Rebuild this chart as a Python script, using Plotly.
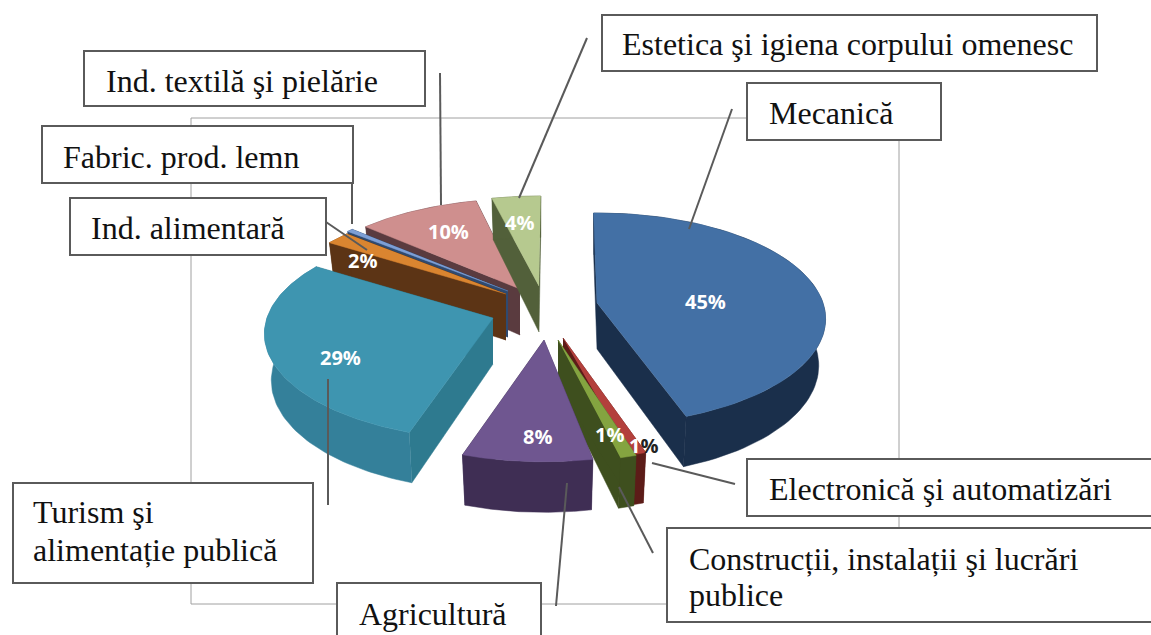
import numpy as np
import plotly.graph_objects as go

# ---- data ----
categories = ["Mecanică", "Electronică şi automatizări", "Construcții, instalații şi lucrări publice",
              "Agricultură", "Turism şi alimentație publică", "Ind. alimentară",
              "Fabric. prod. lemn", "Ind. textilă şi pielărie", "Estetica şi igiena corpului omenesc"]
values = [45, 1, 1, 8, 29, 2, 0.5, 10, 4]
value_labels = ["45%", "1%", "1%", "8%", "29%", "2%", "", "10%", "4%"]

# ---- styling / placement (exploded-slice geometry, per category) ----
top_colors = ["#4370a5", "#b3403c", "#84a440", "#6f5690", "#3e95b0", "#da8530", "#7d9fd6", "#cf8f8e", "#b6c98f"]
wall_colors = ["#1a2f4b", "#5c1c18", "#3e4f1e", "#3f2e54", "#34809a", "#5c3415", "#2f4a70", "#5a3b3f", "#52603a"]
cut_colors = ["#1a2f4b", "#5c1c18", "#3e4f1e", "#3f2e54", "#2e7a8f", "#5c3415", "#2f4a70", "#5a3b3f", "#52603a"]
tips = [(597, 303), (563, 338), (558, 340), (544, 340), (493, 318), (506, 294), (508, 291), (520, 289), (539, 286)]
angle_shift = [-1, 0.5, -2, 1, 1.5, 1.5, 1, 1.5, 0.5]
label_pos = [(705, 301), (643, 445), (609, 434), (537, 436), (340, 357), (362, 260), None, (448, 231), (519, 222)]
draw_order = [7, 8, 6, 5, 4, 0, 1, 2, 3]

RX, RY, P = 226, 103.5, 0.15
DEPTH, SHRINK = 46, 0.97


def project(t_deg, tip, depth=False):
    t = np.radians(np.asarray(t_deg, dtype=float))
    u, v = np.sin(t), -np.cos(t)
    d = 1 - P * v
    x, y = RX * u / d, RY * v / d
    if depth:
        return tip[0] + SHRINK * x, tip[1] + y + DEPTH * (1 + 0.1 * v)
    return tip[0] + x, tip[1] + y


cum = np.concatenate([[0], np.cumsum(values)]) / np.sum(values) * 360

fig = go.Figure()


def poly(xs, ys, color):
    fig.add_trace(go.Scatter(x=list(xs), y=list(ys), mode="lines", fill="toself", fillcolor=color,
                             line=dict(color=color, width=0.5), hoverinfo="skip", showlegend=False))


for i in draw_order:
    tip = tips[i]
    a0, a1 = cum[i] + angle_shift[i], cum[i + 1] + angle_shift[i]
    ts = np.linspace(a0, a1, 80)
    tx, ty = project(ts, tip)
    bx, by = project(ts, tip, True)
    for a in (a1, a0):
        ex, ey = project(a, tip)
        fx, fy = project(a, tip, True)
        poly([tip[0], ex, fx, tip[0]], [tip[1], ey, fy, tip[1] + DEPTH], cut_colors[i])
    poly(np.r_[tx, bx[::-1]], np.r_[ty, by[::-1]], wall_colors[i])
    poly(np.r_[tip[0], tx], np.r_[tip[1], ty], top_colors[i])

GREY = "#5a5a5a"
shapes = [dict(type="rect", x0=191, y0=118, x1=899, y1=604, line=dict(color="#a0a0a0", width=1), layer="below")]

leaders = [(732, 109, 689, 229), (652, 463, 735, 484), (619, 487, 653, 553), (567, 483, 556, 606),
           (328, 379, 328, 505), (326, 222, 367, 250), (352, 151, 352, 224), (440, 73, 441, 205), (587, 38, 519, 198)]
for x0, y0, x1, y1 in leaders:
    shapes.append(dict(type="line", x0=x0, y0=y0, x1=x1, y1=y1, line=dict(color=GREY, width=2), layer="above"))

boxes = [(747, 83, 941, 140), (747, 459, 1156, 516), (667, 528, 1156, 622), (337, 583, 541, 640),
         (13, 483, 313, 583), (70, 198, 326, 255), (42, 126, 353, 183), (84, 51, 425, 106), (602, 15, 1097, 71)]
for x0, y0, x1, y1 in boxes:
    shapes.append(dict(type="rect", x0=x0, y0=y0, x1=x1, y1=y1, fillcolor="white",
                       line=dict(color=GREY, width=2), layer="above"))

box_text = [(767, 113, "Mecanică"), (767, 489, "Electronică şi automatizări"),
            (687, 559, "Construcții, instalații şi lucrări"), (687, 595, "publice"), (357, 614, "Agricultură"),
            (31, 512, "Turism şi"), (31, 550, "alimentație publică"), (89, 228, "Ind. alimentară"),
            (61, 157, "Fabric. prod. lemn"), (104, 81, "Ind. textilă şi pielărie"),
            (620, 44, "Estetica şi igiena corpului omenesc")]
annotations = []
for x, y, s in box_text:
    annotations.append(dict(x=x, y=y, text=s, showarrow=False, xanchor="left", yanchor="middle", align="left",
                            font=dict(family="Liberation Serif", size=32, color="#111111")))

for i, pos in enumerate(label_pos):
    if pos is None:
        continue
    s = value_labels[i]
    if i == 1:
        s = "<span style='color:white'>1</span><span style='color:#222222'>%</span>"
    annotations.append(dict(x=pos[0], y=pos[1], text="<b>" + s + "</b>", showarrow=False,
                            font=dict(family="Open Sans", size=20, color="white")))

fig.update_layout(width=1151, height=635, margin=dict(l=0, r=0, t=0, b=0), autosize=False,
                  paper_bgcolor="white", plot_bgcolor="white", shapes=shapes, annotations=annotations,
                  xaxis=dict(range=[0, 1151], visible=False, fixedrange=True),
                  yaxis=dict(range=[635, 0], visible=False, fixedrange=True))
fig.write_html("out.html", config=dict(displayModeBar=False),
               post_script="document.body.style.margin='0';document.body.style.overflow='hidden';")
